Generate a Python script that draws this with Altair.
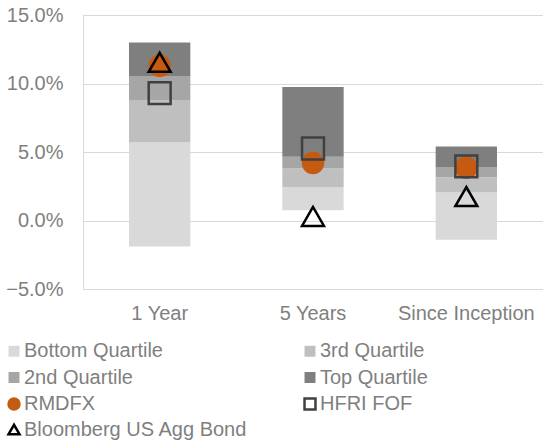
import altair as alt
import pandas as pd

# Return periods on the category axis
categories = ["1 Year", "5 Years", "Since Inception"]

# Peer-group quartile boundaries (%): bar floor, then the top of each quartile band
floor_vals = [-1.9, 0.75, -1.4]
bottom_top = [5.7, 2.45, 2.05]
third_top = [8.8, 3.8, 3.15]
second_top = [10.55, 4.65, 3.9]
top_top = [13.0, 9.75, 5.4]

# Fund and benchmark returns (%)
rmdfx = [11.3, 4.2, 3.85]
hfri_fof = [9.3, 5.25, 3.95]
agg_bond = [11.55, 0.3, 1.75]

# Legend entries are listed column by column (two columns, four rows)
series = ["Bottom Quartile", "2nd Quartile", "RMDFX", "Bloomberg US Agg Bond",
          "3rd Quartile", "Top Quartile", "HFRI FOF"]
fills = ["#d9d9d9", "#a6a6a6", "#c55a11", "transparent",
         "#bfbfbf", "#7f7f7f", "transparent"]
strokes = ["transparent", "transparent", "#c55a11", "#000000",
           "transparent", "transparent", "#404040"]
shapes = ["square", "square", "circle", "triangle-up",
          "square", "square", "square"]

quartiles = ["Bottom Quartile", "3rd Quartile", "2nd Quartile", "Top Quartile"]
bands = []
edges = [floor_vals, bottom_top, third_top, second_top, top_top]
for i, cat in enumerate(categories):
    for k in range(4):
        bands.append({"period": cat, "series": quartiles[k],
                      "low": edges[k][i], "high": edges[k + 1][i]})
bands_df = pd.DataFrame(bands)


def marker_frame(name, vals):
    return pd.DataFrame({"period": categories, "series": name, "value": vals})


FONT = "Liberation Sans"
TEXT = "#7f7f7f"
GRID = "#d9d9d9"

x_enc = alt.X("period:N", sort=categories, title=None,
              scale=alt.Scale(paddingInner=0.6, paddingOuter=0.3),
              axis=alt.Axis(labelAngle=0, ticks=False, domainColor=GRID,
                            labelPadding=14, labelFontSize=20, labelColor=TEXT,
                            labelFont=FONT))
y_scale = alt.Scale(domain=[-5, 15], nice=False, zero=False)
y_axis = alt.Axis(values=[-5, 0, 5, 10, 15], ticks=False, gridColor=GRID,
                  domainColor=GRID, labelPadding=20, labelFontSize=20,
                  labelColor=TEXT, labelFont=FONT,
                  labelExpr="format(datum.value, '.1f') + '%'")

legend = alt.Legend(orient="none", legendX=-79, legendY=326, columns=2,
                    columnPadding=51, rowPadding=4.5, labelFontSize=20,
                    labelColor=TEXT, labelFont=FONT, symbolSize=120,
                    symbolStrokeWidth=2.5, labelOffset=0, labelLimit=400)

fill_enc = alt.Fill("series:N", title=None,
                    scale=alt.Scale(domain=series, range=fills), legend=legend)
stroke_enc = alt.Stroke("series:N", title=None,
                        scale=alt.Scale(domain=series, range=strokes), legend=legend)
shape_enc = alt.Shape("series:N", title=None,
                      scale=alt.Scale(domain=series, range=shapes), legend=legend)

bars = alt.Chart(bands_df).mark_bar().encode(
    x=x_enc,
    y=alt.Y("low:Q", scale=y_scale, axis=y_axis, title=None),
    y2="high:Q",
    fill=fill_enc,
)


def marker_layer(name, vals, size):
    return alt.Chart(marker_frame(name, vals)).mark_point(
        filled=True, size=size, strokeWidth=2.5, opacity=1
    ).encode(
        x=x_enc,
        y=alt.Y("value:Q", scale=y_scale),
        fill=fill_enc,
        stroke=stroke_enc,
        shape=shape_enc,
    )


chart = alt.layer(
    bars,
    marker_layer("RMDFX", rmdfx, 400),
    marker_layer("HFRI FOF", hfri_fof, 480),
    marker_layer("Bloomberg US Agg Bond", agg_bond, 480),
).properties(
    width=460, height=274,
    padding={"left": 83, "top": 15, "right": 0, "bottom": 156},
    autosize=alt.AutoSizeParams(type="none"),
).configure_view(stroke=None).configure(background="white")

chart.save("out.html", embed_options={"renderer": "svg", "actions": False})
